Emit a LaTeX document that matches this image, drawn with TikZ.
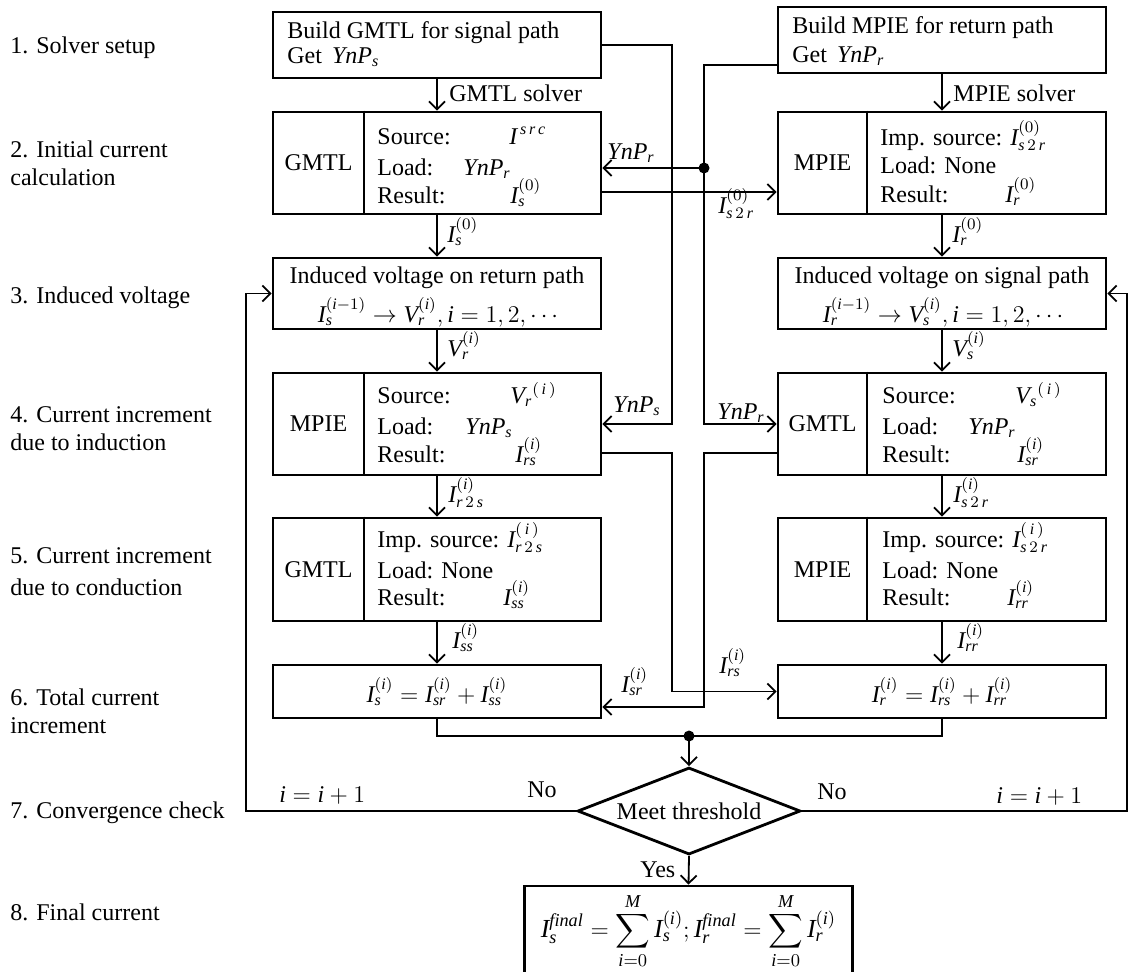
\documentclass[tikz,border=0pt]{standalone}
\usepackage{amsmath}
\usepackage{fontspec}
\setmainfont{Liberation Serif}
\usetikzlibrary{arrows.meta,shapes.geometric}
\newcommand{\mi}[1]{\textit{#1}}
\begin{document}
\begin{tikzpicture}[x={(0.5pt,0pt)},y={(0pt,-0.5pt)},
  font=\fontsize{12}{14}\selectfont,
  box/.style={draw, line width=1.4pt, inner sep=0pt, minimum width=164pt},
  ln/.style={line width=0.9pt},
  arr/.style={line width=0.9pt, -{Straight Barb[length=4pt,width=8pt,line width=0.9pt]}},
  txt/.style={anchor=base west, inner sep=0pt},
  ctxt/.style={anchor=base, inner sep=0pt},
  jdot/.style={circle, fill, inner sep=0pt, minimum size=5.5pt}]
\useasboundingbox (0,0) rectangle (1133,971);

% ---------- step labels ----------
\node[txt] (l1) at (10,53) {1. Solver setup};
\node[txt] (l2a) at (10,157) {2. Initial current};
\node[txt] (l2b) at (10,185) {calculation};
\node[txt] (l3) at (10,303) {3. Induced voltage};
\node[txt] (l4a) at (10,422) {4. Current increment};
\node[txt] (l4b) at (10,450) {due to induction};
\node[txt] (l5a) at (10,563) {5. Current increment};
\node[txt] (l5b) at (10,595) {due to conduction};
\node[txt] (l6a) at (10,705) {6. Total current};
\node[txt] (l6b) at (10,733) {increment};
\node[txt] (l7) at (10,818) {7. Convergence check};
\node[txt] (l8) at (10,920) {8. Final current};

% ---------- row 1 ----------
\node[box, minimum height=33pt] (b1l) at (437,45) {};
\node[txt] (t1a) at (287,38) {Build GMTL for signal path};
\node[txt] (t1b) at (287,63) {Get \,$\mi{YnP}_{\mi{s}}$};
\node[box, minimum height=33pt] (b1r) at (942,40) {};
\node[txt] (t1c) at (792,33) {Build MPIE for return path};
\node[txt] (t1d) at (792,62) {Get \,$\mi{YnP}_{\mi{r}}$};

% ---------- row 2 ----------
\node[box, minimum height=51pt] (b2l) at (437,163) {};
\node (c2l) at (318.5,163) {GMTL};
\node[txt] (s2a) at (377,144) {Source:};
\node[txt] (v2a) at (509,144) {$\mi{I}^{\,\mi{s\,r\,c}}$};
\node[txt] (s2b) at (377,175) {Load:};
\node[txt] (v2b) at (463,175) {$\mi{YnP}_{\mi{r}}$};
\node[txt] (s2c) at (377,203) {Result:};
\node[txt] (v2c) at (510,203) {$\mi{I}_{\mi{s}}^{(0)}$};

\node[box, minimum height=51pt] (b2r) at (942,163) {};
\node (c2r) at (822.5,163) {MPIE};
\node[txt] (s2d) at (880,145) {Imp. source: $\mi{I}_{\mi{s}\,2\,\mi{r}}^{(0)}$};
\node[txt] (s2e) at (880,173) {Load: None};
\node[txt] (s2f) at (880,202) {Result:};
\node[txt] (v2f) at (1005,202) {$\mi{I}_{\mi{r}}^{(0)}$};

% ---------- row 3 ----------
\node[box, minimum height=35.5pt] (b3l) at (437,293.5) {};
\node[ctxt] (t3a) at (437,283) {Induced voltage on return path};
\node[ctxt] (t3b) at (440,322) {$\mi{I}_{\mi{s}}^{(\mi{i}-1)}\rightarrow \mi{V}_{\mi{r}}^{(\mi{i})},\mi{i}=1,2,\cdots$};
\node[box, minimum height=35.5pt] (b3r) at (942,293.5) {};
\node[ctxt] (t3c) at (942,283) {Induced voltage on signal path};
\node[ctxt] (t3d) at (945,322) {$\mi{I}_{\mi{r}}^{(\mi{i}-1)}\rightarrow \mi{V}_{\mi{s}}^{(\mi{i})},\mi{i}=1,2,\cdots$};

% ---------- row 4 ----------
\node[box, minimum height=51pt] (b4l) at (437,424) {};
\node (c4l) at (318.5,424) {MPIE};
\node[txt] (s4a) at (377,403) {Source:};
\node[txt] (v4a) at (510,403) {$\mi{V}_{\mi{r}}{}^{(\,\mi{i}\,)}$};
\node[txt] (s4b) at (377,434) {Load:};
\node[txt] (v4b) at (465,434) {$\mi{YnP}_{\mi{s}}$};
\node[txt] (s4c) at (377,462) {Result:};
\node[txt] (v4c) at (515,462) {$\mi{I}_{\mi{rs}}^{(\mi{i})}$};

\node[box, minimum height=51pt] (b4r) at (942,424) {};
\node (c4r) at (822.5,424) {GMTL};
\node[txt] (s4d) at (882,403) {Source:};
\node[txt] (v4d) at (1015,403) {$\mi{V}_{\mi{s}}{}^{(\,\mi{i}\,)}$};
\node[txt] (s4e) at (882,434) {Load:};
\node[txt] (v4e) at (968,434) {$\mi{YnP}_{\mi{r}}$};
\node[txt] (s4f) at (882,462) {Result:};
\node[txt] (v4f) at (1017,462) {$\mi{I}_{\mi{sr}}^{(\mi{i})}$};

% ---------- row 5 ----------
\node[box, minimum height=51.5pt] (b5l) at (437,569.5) {};
\node (c5l) at (318.5,569.5) {GMTL};
\node[txt] (s5a) at (377,547) {Imp. source: $\mi{I}_{\mi{r}\,2\,\mi{s}}^{(\,\mi{i}\,)}$};
\node[txt] (s5b) at (377,578) {Load: None};
\node[txt] (s5c) at (377,605) {Result:};
\node[txt] (v5c) at (503,605) {$\mi{I}_{\mi{ss}}^{(\mi{i})}$};

\node[box, minimum height=51.5pt] (b5r) at (942,569.5) {};
\node (c5r) at (822.5,569.5) {MPIE};
\node[txt] (s5d) at (882,547) {Imp. source: $\mi{I}_{\mi{s}\,2\,\mi{r}}^{(\,\mi{i}\,)}$};
\node[txt] (s5e) at (882,578) {Load: None};
\node[txt] (s5f) at (882,605) {Result:};
\node[txt] (v5f) at (1007,605) {$\mi{I}_{\mi{rr}}^{(\mi{i})}$};

% ---------- row 6 ----------
\node[box, minimum height=26.5pt] (b6l) at (437,691.5)
  {$\mi{I}_{\mi{s}}^{(\mi{i})}=\mi{I}_{\mi{sr}}^{(\mi{i})}+\mi{I}_{\mi{ss}}^{(\mi{i})}$};
\node[box, minimum height=26.5pt] (b6r) at (942,691.5)
  {$\mi{I}_{\mi{r}}^{(\mi{i})}=\mi{I}_{\mi{rs}}^{(\mi{i})}+\mi{I}_{\mi{rr}}^{(\mi{i})}$};

% ---------- decision and final ----------
\node[draw, diamond, line width=1.4pt, aspect=2.56, minimum width=111.5pt,
      minimum height=43.5pt, inner sep=0pt] (dia) at (689,811) {Meet threshold};
\node[box, minimum height=49.5pt] (fin) at (688.5,935.5) {};
\node[inner sep=0pt, font=\fontsize{13}{15}\selectfont] (tfin) at (688.5,931)
  {$\displaystyle \mi{I}_{\mi{s}}^{\mi{final}}=\sum_{\mi{i}=0}^{\mi{M}}\mi{I}_{\mi{s}}^{(\mi{i})};\mi{I}_{\mi{r}}^{\mi{final}}=\sum_{\mi{i}=0}^{\mi{M}}\mi{I}_{\mi{r}}^{(\mi{i})}$};

% ---------- dividers ----------
\coordinate (dl) at (364,0);
\coordinate (dr) at (867,0);
\foreach \b in {b2l,b4l,b5l} \draw[line width=1.4pt] (\b.north -| dl) -- (\b.south -| dl);
\foreach \b in {b2r,b4r,b5r} \draw[line width=1.4pt] (\b.north -| dr) -- (\b.south -| dr);

% ---------- helper coordinates ----------
\coordinate (xs) at (672,0);
\coordinate (xr) at (704,0);
\coordinate (xfl) at (246,0);
\coordinate (xfr) at (1127,0);
\coordinate (ya) at (0,192);
\coordinate (yb) at (0,453);
\coordinate (yc) at (0,707);
\coordinate (yd) at (0,65);

% ---------- vertical main flow ----------
\draw[arr] (b1l.south) -- (b2l.north);
\node[txt] (gs) at (449,101) {GMTL solver};
\draw[arr] (b1r.south) -- (b2r.north);
\node[txt] (ms) at (953,101) {MPIE solver};
\draw[arr] (b2l.south) -- (b3l.north);
\node[txt] (a1) at (447,242) {$\mi{I}_{\mi{s}}^{(0)}$};
\draw[arr] (b2r.south) -- (b3r.north);
\node[txt] (a2) at (952,242) {$\mi{I}_{\mi{r}}^{(0)}$};
\draw[arr] (b3l.south) -- (b4l.north);
\node[txt] (a3) at (447,356) {$\mi{V}_{\mi{r}}^{(\mi{i})}$};
\draw[arr] (b3r.south) -- (b4r.north);
\node[txt] (a4) at (952,356) {$\mi{V}_{\mi{s}}^{(\mi{i})}$};
\draw[arr] (b4l.south) -- (b5l.north);
\node[txt] (a5) at (448,502) {$\mi{I}_{\mi{r}\,2\,\mi{s}}^{(\mi{i})}$};
\draw[arr] (b4r.south) -- (b5r.north);
\node[txt] (a6) at (953,502) {$\mi{I}_{\mi{s}\,2\,\mi{r}}^{(\mi{i})}$};
\draw[arr] (b5l.south) -- (b6l.north);
\node[txt] (a7) at (452,648) {$\mi{I}_{\mi{ss}}^{(\mi{i})}$};
\draw[arr] (b5r.south) -- (b6r.north);
\node[txt] (a8) at (957,648) {$\mi{I}_{\mi{rr}}^{(\mi{i})}$};

% ---------- cross connections ----------
\draw[arr] (b1l.east) -| (xs |- b4l.east) -- (b4l.east);
\node[txt] (ys) at (613,412) {$\mi{YnP}_{\mi{s}}$};

\node[jdot] (jr) at (704,168) {};
\draw[ln] (b1r.west |- yd) -| (jr.center);
\draw[arr] (jr.center) -- (jr.center -| b2l.east);
\draw[arr] (jr.center) |- (b4r.west);
\node[txt] (yr1) at (607,159) {$\mi{YnP}_{\mi{r}}$};
\node[txt] (yr2) at (717,419) {$\mi{YnP}_{\mi{r}}$};

\draw[arr] (b2l.east |- ya) -- (b2r.west |- ya);
\node[txt] (is2r) at (718,213) {$\mi{I}_{\mi{s}\,2\,\mi{r}}^{(0)}$};

\draw[arr] (b4l.east |- yb) -| (xs |- b6r.west) -- (b6r.west);
\node[txt] (irs) at (719,673) {$\mi{I}_{\mi{rs}}^{(\mi{i})}$};
\draw[arr] (b4r.west |- yb) -| (xr |- yc) -- (b6l.east |- yc);
\node[txt] (isr) at (621,692) {$\mi{I}_{\mi{sr}}^{(\mi{i})}$};

% ---------- merge and loop ----------
\node[jdot] (jm) at (689,736) {};
\draw[ln] (b6l.south) |- (jm.center) -| (b6r.south);
\draw[arr] (jm.center) -- (dia.north);

\draw[arr] (dia.west) -| (xfl |- b3l.west) -- (b3l.west);
\draw[arr] (dia.east) -| (xfr |- b3r.east) -- (b3r.east);
\node[txt] (nol) at (527,797) {No};
\node[txt] (nor) at (817,799) {No};
\node[txt] (il) at (279,802) {$\mi{i}=\mi{i}+1$};
\node[txt] (ir) at (996,803) {$\mi{i}=\mi{i}+1$};

\draw[arr] (dia.south) -- (fin.north);
\node[txt] (yes) at (640,877) {Yes};
\end{tikzpicture}
\end{document}
